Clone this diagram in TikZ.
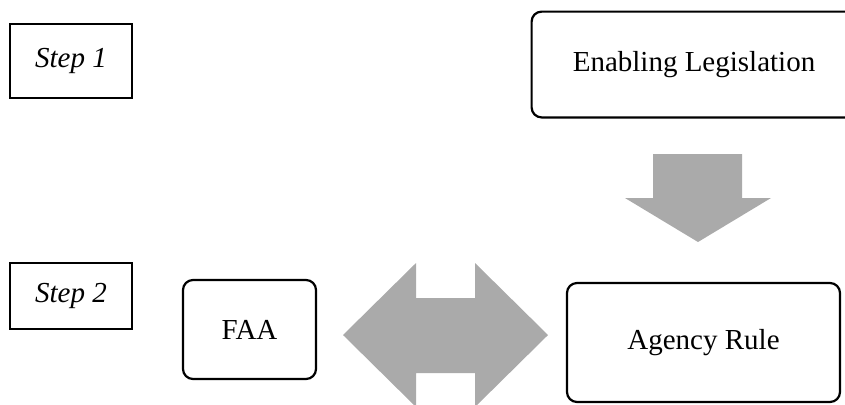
\documentclass[tikz,border=0pt]{standalone}
\usepackage{fontspec}
\setmainfont{Liberation Serif}
\usepackage{tikz}

\definecolor{arrowgray}{HTML}{AAAAAA}

\tikzset{
	stepbox/.style={draw, line width=0.7pt, inner sep=0pt, font=\fontsize{14.5}{17}\selectfont\itshape},
	block/.style={draw, line width=1.1pt, rounded corners=5pt, inner sep=0pt},
	bigarrow/.style={fill=arrowgray, draw=none}
}

\begin{document}
\begin{tikzpicture}[x=0.5pt, y=-0.5pt, font=\fontsize{14.5}{17}\selectfont]
		\useasboundingbox (0,0) rectangle (845,404);

		\node[stepbox, minimum width=61pt, minimum height=37pt] (step1) at (71,61) 	{\raisebox{2pt}{Step 1}\hspace{8pt}} ;
		\node[stepbox, minimum width=61pt, minimum height=33pt] (step2) at (71,296) 	{\raisebox{2pt}{Step 2}\hspace{8pt}} ;

		\node[inner sep=0pt, minimum width=162pt, minimum height=52.5pt] (law) at (694,64.5) 	{Enabling Legislation} ;
		\node[block, minimum width=66.5pt, minimum height=49.5pt] (faa) at (249.5,329.5) 	{FAA} ;
		\node[block, minimum width=136.5pt, minimum height=59.5pt] (rule) at (703.5,342.5) 	{Agency Rule} ;

		% frame of the top box runs past the page edge
		\draw[line width=1.1pt, rounded corners=5pt] ([xshift=30pt]law.north east) -- (law.north west)
			-- (law.south west) -- ([xshift=30pt]law.south east) ;

		% block arrows
		\fill[bigarrow] (653,154) -- (742,154) -- (742,198) -- (771,198) -- (698,242)
			-- (625,198) -- (653,198) -- cycle ;
		\fill[bigarrow] (343,335) -- (416,263) -- (416,298) -- (475,298) -- (475,263)
			-- (548,335) -- (475,407) -- (475,373) -- (416,373) -- (416,407) -- cycle ;
\end{tikzpicture}
\end{document}
